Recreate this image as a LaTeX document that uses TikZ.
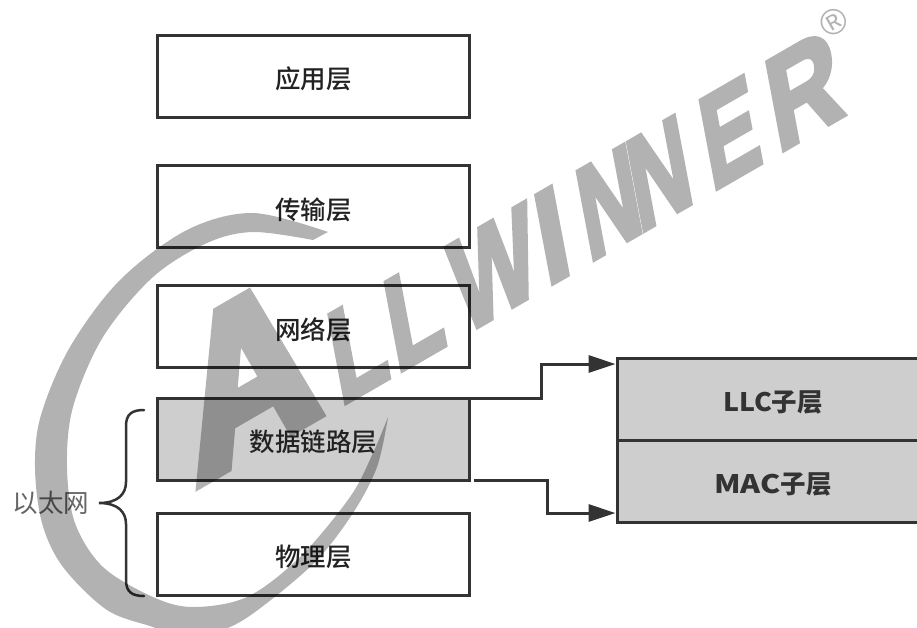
\documentclass[tikz,border=0pt]{standalone}
\usepackage{fontspec}
\usepackage{graphicx}
\setmainfont{Liberation Sans}
\newfontfamily\cjk{Noto Sans CJK SC}
\newfontfamily\cjkm{Noto Sans CJK SC Medium}
\newfontfamily\wm[FakeBold=4]{Liberation Sans Bold}
\newfontfamily\wmA[FakeBold=6]{Liberation Sans Bold}
\newfontfamily\wmR{Liberation Sans}
\usetikzlibrary{arrows.meta,calc}
\definecolor{ink}{HTML}{333333}
\definecolor{labelink}{HTML}{222222}
\definecolor{fillgray}{HTML}{CECECE}
\newcommand\wl[3]{\rlap{\kern#1pt\scalebox{#2}[1]{#3}}}
\tikzset{
  layer/.style={draw=ink,line width=3pt,minimum width=312pt,minimum height=82pt,inner sep=0pt,text height=25.5pt,text depth=.5pt,font=\fontsize{25.5}{30}\selectfont\cjkm,text=labelink},
  shaded/.style={fill=fillgray},
  sublayer/.style={draw=ink,line width=3pt,fill=fillgray,minimum width=312pt,minimum height=82pt,inner sep=0pt,text height=25.5pt,text depth=.5pt,font=\fontsize{25.5}{30}\selectfont\cjk\bfseries,text=ink},
  link/.style={draw=ink,line width=3pt,-{Triangle[length=27pt,width=17pt]}},
  brace/.style={draw=ink,line width=2.5pt,line cap=round},
  wmark/.style={fill=black,draw=none},
  wmtext/.style={text=black,inner sep=0pt,font=\fontsize{122}{122}\selectfont\wm}
}
\begin{document}
\begin{tikzpicture}[x=1pt,y=-1pt]
\path[use as bounding box,fill=white] (0,0) rectangle (917,627);
% boxes
\node[layer] (app) at (313.5,76) {应用层};
\node[layer] (trans) at (313.5,206.5) {传输层};
\node[layer] (net) at (313.5,326.5) {网络层};
\node[layer,shaded] (link) at (313.5,439) {数据链路层};
\node[layer] (phy) at (313.5,554) {物理层};
\node[sublayer] (llc) at (773,399) {\scalebox{1.05}[1]{LLC}子层};
\node[sublayer] (mac) at (773,481) {\scalebox{1.19}[1]{MAC}子层};
% connectors
\coordinate (uin) at ([yshift=-7.5pt]llc.north west);
\coordinate (lin) at ([yshift=10.5pt]mac.south west);
\draw[link] ([yshift=-1.5pt]link.north east) -- ++(70,0) |- (uin);
\draw[link] ([xshift=3pt,yshift=1.5pt]link.south east) -- ++(73,0) |- (lin);
% brace
\draw[brace] (144,410) .. controls (132,410) and (126,414) .. (126,426) -- (126,482)
  .. controls (126,494) and (118,503) .. (99,503)
  .. controls (118,503) and (126,512) .. (126,524) -- (126,580)
  .. controls (126,592) and (132,596) .. (144,596);
\node[font=\fontsize{25.5}{30}\selectfont\cjk,text=black!60,inner sep=0pt] (eth) at (51,503) {以太网};
% watermark
\begin{scope}[transparency group,opacity=.3]
\begin{scope}
\clip (0,0) rectangle (917,627);
\fill[wmark] plot[smooth,tension=.55] coordinates {(313,240) (253,232) (207,243) (153,277) (103,337) (73,407) (67,467) (75,523) (103,567) (153,597) (193,607) (247,597) (300,557) (350,497) (373,453) (388,417)}
 -- plot[smooth,tension=.55] coordinates {(388,417) (377,467) (353,513) (317,560) (267,603) (230,627) (185,638) (153,627) (107,610) (63,567) (42,523) (35,467) (41,415) (70,347) (120,280) (187,230) (253,213) (328,232)} -- cycle;
\end{scope}
\begin{scope}[shift={(198,488)},rotate=30,xslant=.35]
\node[wmtext,transform shape,anchor=base west] (wm) at (0,0) {\wl{0}{1}{\raisebox{4pt}{\fontsize{200}{200}\selectfont\wmA A}}\wl{164}{.8}{L}\wl{229}{.8}{L}\wl{305}{.8}{W}\wl{402}{.95}{I}\wl{451}{.75}{N}\wl{509}{.75}{N}\wl{593}{.75}{E}\wl{669}{.9}{R}\phantom{\kern749pt}};
\end{scope}
\node[text=black,inner sep=0pt,rotate=30,font=\fontsize{36}{36}\selectfont\wmR] (reg) at (834,22) {®};
\end{scope}
\end{tikzpicture}
\end{document}
